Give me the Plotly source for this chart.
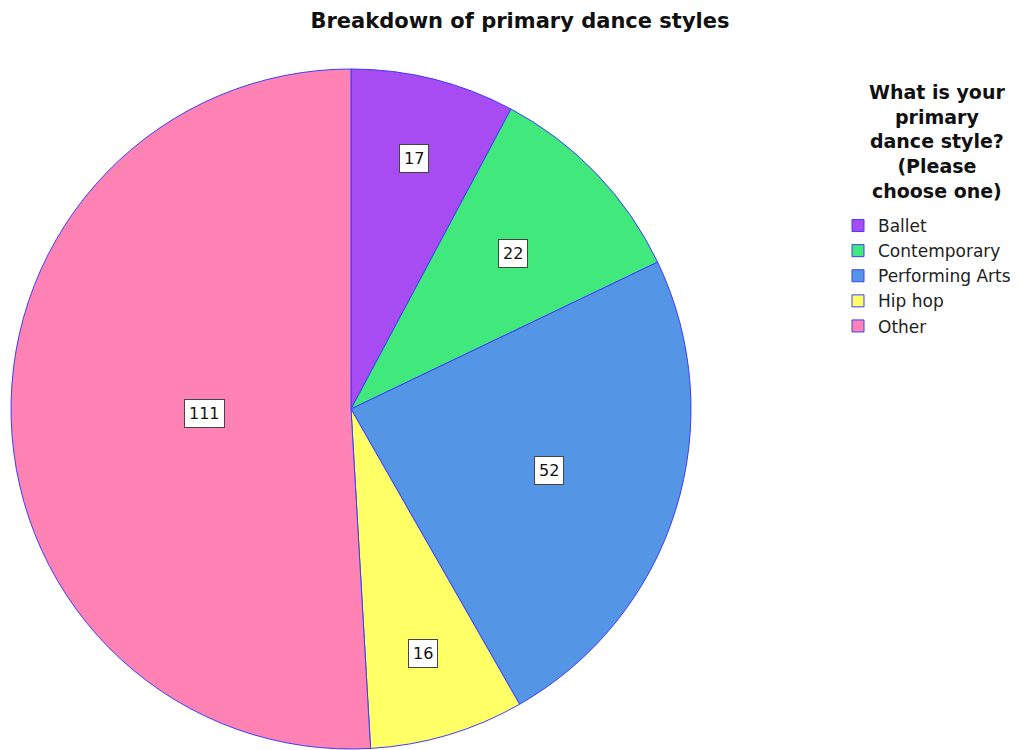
import math
import plotly.graph_objects as go

# Survey responses: primary dance style
styles = ["Ballet", "Contemporary", "Performing Arts", "Hip hop", "Other"]
counts = [17, 22, 52, 16, 111]
colors = ["#a74bf3", "#41e87c", "#5595e5", "#ffff66", "#ff82b4"]

legend_heading = "What is your<br>primary<br>dance style?<br>(Please<br>choose one)"
chart_title = "Breakdown of primary dance styles"

# Figure geometry (pixels)
W, H = 1029, 750
cx, cy, r = 351, 409, 340

# radial placement of each boxed value label, as a fraction of the radius
label_radius = [0.76, 0.66, 0.61, 0.75, 0.43]

fig = go.Figure(go.Pie(
    labels=styles,
    values=counts,
    sort=False,
    direction="clockwise",
    rotation=0,
    textinfo="none",
    hoverinfo="label+value",
    marker=dict(colors=colors, line=dict(color="#3c3cff", width=1)),
    domain=dict(x=[(cx - r) / W, (cx + r) / W],
                y=[(H - cy - r) / H, (H - cy + r) / H]),
))

# boxed count labels at each slice's mid angle
total = sum(counts)
cum = 0
annotations = []
for v, f in zip(counts, label_radius):
    mid = (cum + v / 2) / total * 2 * math.pi
    cum += v
    px = cx + r * f * math.sin(mid)
    py = cy - r * f * math.cos(mid)
    annotations.append(dict(
        x=px / W, y=(H - py) / H, xref="paper", yref="paper",
        xanchor="center", yanchor="middle",
        text=str(v), showarrow=False,
        font=dict(family="DejaVu Sans", size=16, color="#111111"),
        bgcolor="white", bordercolor="#444444", borderwidth=1, borderpad=4,
    ))

# centred, multi-line legend heading
annotations.append(dict(
    x=937 / W, y=1 - 79 / H, xref="paper", yref="paper",
    xanchor="center", yanchor="top", align="center",
    text="<b>" + legend_heading + "</b>", showarrow=False,
    font=dict(family="DejaVu Sans", size=19, color="#111111"),
))

fig.update_layout(
    width=W, height=H,
    margin=dict(l=0, r=0, t=0, b=0),
    paper_bgcolor="white",
    plot_bgcolor="white",
    font=dict(family="DejaVu Sans", color="#111111"),
    title=dict(text="<b>" + chart_title + "</b>",
               x=520 / W, xanchor="center", y=1 - 21 / H, yanchor="middle",
               font=dict(family="DejaVu Sans", size=21, color="#111111")),
    legend=dict(
        x=838 / W, xanchor="left", y=1 - 208 / H, yanchor="top",
        font=dict(family="DejaVu Sans", size=17, color="#222222"),
        tracegroupgap=0,
        itemclick=False,
    ),
    annotations=annotations,
)

fig.write_html("out.html")
